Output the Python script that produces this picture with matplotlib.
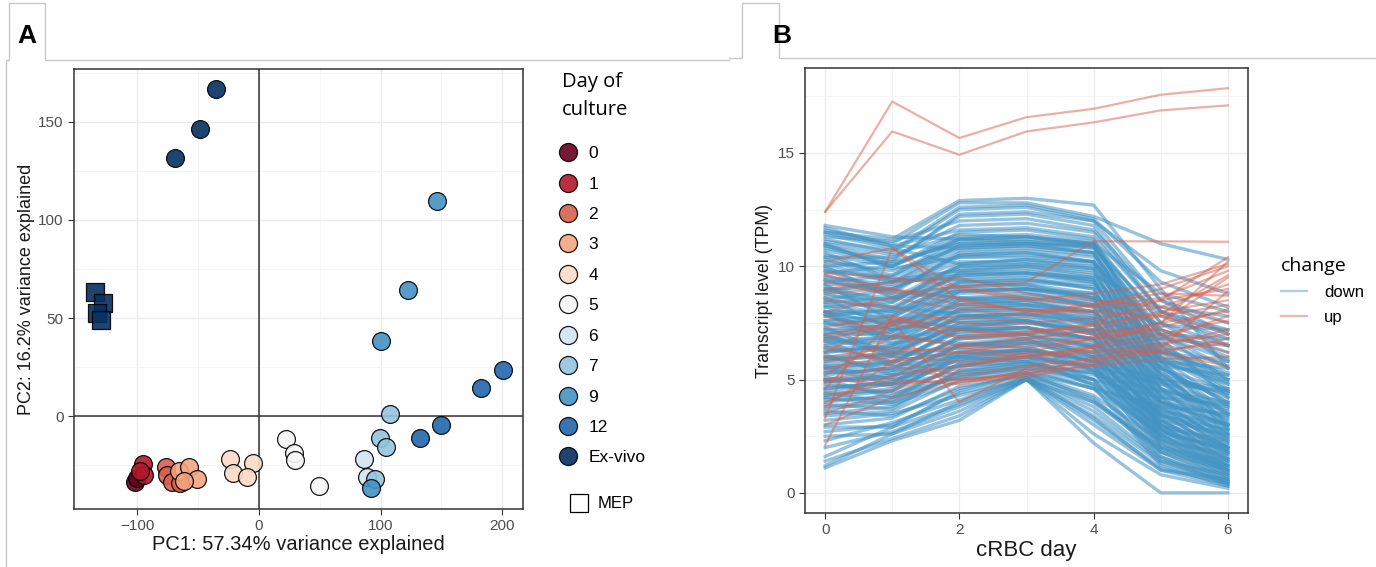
import matplotlib.pyplot as plt
from matplotlib.lines import Line2D
import numpy as np

plt.rcParams['font.family'] = ['Liberation Sans', 'DejaVu Sans']

# ---- panel A: PCA
day_labels = ['0', '1', '2', '3', '4', '5', '6', '7', '9', '12', 'Ex-vivo']
day_colors = ['#67001f', '#b2182b', '#d6604d', '#f4a582', '#fddbc7', '#f7f7f7',
              '#d1e5f0', '#92c5de', '#4393c3', '#2166ac', '#053061']
pc1 = {
    '0': [-101.5, -100.1],
    '1': [-95.2, -94.7, -97.4],
    '2': [-76.8, -75.4, -71.3, -64.5],
    '3': [-65.9, -57.7, -50.8, -61.8],
    '4': [-24.0, -4.8, -21.2, -9.7],
    '5': [22.6, 28.6, 30.0, 49.2],
    '6': [86.1, 88.9],
    '7': [108.0, 99.3, 104.8, 95.2],
    '9': [146.7, 122.6, 100.4, 92.2],
    '12': [200.6, 182.3, 149.8, 132.7],
    'Ex-vivo': [-35.7, -48.1, -68.6],
}
pc2 = {
    '0': [-33.5, -31.8],
    '1': [-24.5, -30.1, -27.9],
    '2': [-25.8, -30.1, -33.5, -34.0],
    '3': [-27.9, -26.2, -32.3, -33.0],
    '4': [-21.9, -23.8, -29.2, -30.9],
    '5': [-11.7, -18.7, -22.4, -35.7],
    '6': [-21.9, -30.9],
    '7': [0.8, -11.0, -15.6, -32.0],
    '9': [109.8, 64.2, 38.2, -36.9],
    '12': [23.4, 14.1, -4.6, -11.0],
    'Ex-vivo': [166.7, 146.6, 131.7],
}
mep_pc1 = [-134.4, -128.0, -133.5, -129.4]
mep_pc2 = [63.4, 57.8, 52.7, 48.9]

# ---- panel B: transcript trajectories (days 0..6)
days = [0, 1, 2, 3, 4, 5, 6]
down = [
    [11.5, 11.2, 12.9, 13.0, 12.7, 9.0, 5.5],
    [11.6, 11.0, 12.8, 12.8, 12.2, 11.0, 10.3],
    [11.2, 10.6, 12.5, 12.6, 12.0, 8.5, 7.0],
    [10.9, 10.3, 12.2, 12.3, 11.8, 8.0, 6.5],
    [11.0, 10.5, 11.4, 11.3, 11.0, 7.5, 5.8],
    [10.5, 10.0, 11.2, 11.1, 10.9, 7.0, 5.0],
    [10.8, 10.2, 11.0, 11.1, 10.8, 7.8, 6.8],
    [10.2, 9.8, 10.8, 10.9, 10.6, 6.5, 4.8],
    [9.8, 9.5, 10.9, 11.0, 10.9, 6.8, 4.2],
    [9.5, 9.2, 10.5, 10.6, 10.2, 6.2, 4.5],
    [9.0, 9.0, 10.2, 10.2, 10.0, 6.0, 3.8],
    [11.4, 10.8, 10.1, 10.3, 10.1, 7.2, 6.0],
    [8.7, 8.5, 9.8, 10.0, 9.7, 5.8, 3.5],
    [8.4, 8.6, 9.5, 9.6, 9.3, 5.5, 4.0],
    [8.0, 8.0, 9.2, 9.3, 9.1, 5.2, 3.2],
    [7.6, 7.8, 9.0, 9.0, 8.7, 5.0, 3.0],
    [7.2, 7.4, 8.6, 8.6, 8.3, 4.6, 2.8],
    [6.9, 7.1, 8.3, 8.4, 8.0, 4.3, 2.5],
    [6.5, 6.8, 8.0, 8.1, 7.7, 4.0, 2.2],
    [6.2, 6.5, 7.7, 7.8, 7.4, 3.8, 2.0],
    [5.9, 6.2, 7.4, 7.5, 7.1, 3.5, 1.8],
    [5.5, 5.8, 7.1, 7.2, 6.8, 3.2, 1.5],
    [5.2, 5.5, 6.8, 6.9, 6.5, 3.0, 1.3],
    [4.9, 5.2, 6.5, 6.6, 6.2, 2.8, 1.2],
    [4.6, 4.9, 6.2, 6.3, 5.9, 2.6, 1.0],
    [4.3, 4.6, 5.9, 6.0, 5.6, 2.4, 0.9],
    [4.0, 4.3, 5.6, 5.7, 5.3, 2.2, 0.8],
    [3.7, 4.0, 5.3, 5.5, 5.0, 2.0, 0.7],
    [3.4, 3.6, 5.0, 5.3, 4.6, 1.8, 0.6],
    [3.0, 3.3, 4.7, 5.2, 4.2, 1.6, 0.5],
    [2.7, 3.0, 4.4, 5.1, 3.8, 1.5, 0.4],
    [1.1, 2.3, 3.2, 5.0, 2.2, 0.0, 0.0],
    [1.2, 2.6, 3.6, 5.0, 3.0, 1.0, 0.3],
    [1.6, 2.9, 3.9, 5.0, 3.4, 1.3, 0.5],
    [2.3, 3.1, 4.1, 5.1, 3.6, 1.4, 0.8],
    [3.2, 3.5, 4.3, 5.0, 4.0, 1.8, 1.0],
    [5.0, 4.2, 5.1, 5.6, 4.8, 2.5, 1.5],
    [6.0, 5.4, 5.8, 6.1, 5.5, 3.0, 2.0],
    [7.0, 6.0, 6.4, 6.6, 6.0, 3.5, 2.5],
    [8.0, 6.8, 7.2, 7.3, 6.8, 4.0, 3.0],
    [9.2, 7.6, 8.0, 8.1, 7.6, 4.8, 3.5],
    [10.0, 8.6, 8.9, 9.0, 8.5, 5.5, 4.0],
    [10.6, 9.4, 9.8, 9.9, 9.5, 6.5, 5.0],
    [11.0, 9.9, 10.4, 10.5, 10.2, 7.0, 5.5],
    [11.7, 10.9, 11.6, 11.7, 11.3, 8.0, 7.0],
    [11.3, 11.1, 12.0, 12.1, 11.6, 8.5, 7.5],
    [10.4, 10.4, 11.8, 11.9, 11.5, 8.0, 7.2],
    [9.7, 10.0, 11.3, 11.4, 11.1, 7.5, 6.5],
    [9.3, 9.6, 11.0, 11.0, 10.8, 7.2, 6.2],
    [8.9, 9.3, 10.7, 10.8, 10.5, 6.9, 5.9],
    [8.5, 9.0, 10.4, 10.4, 10.2, 6.6, 5.6],
    [8.2, 8.4, 10.0, 10.1, 9.9, 6.3, 5.3],
    [7.8, 8.1, 9.6, 9.7, 9.5, 6.0, 5.0],
    [7.4, 7.7, 9.3, 9.4, 9.2, 5.8, 4.8],
    [7.0, 7.3, 8.9, 9.0, 8.8, 5.5, 4.5],
    [6.6, 6.9, 8.5, 8.7, 8.4, 5.2, 4.2],
    [6.2, 6.5, 8.1, 8.3, 8.0, 4.9, 3.9],
    [5.8, 6.1, 7.7, 7.9, 7.6, 4.6, 3.6],
    [5.4, 5.7, 7.3, 7.5, 7.2, 4.3, 3.3],
    [5.0, 5.3, 6.9, 7.1, 6.8, 4.0, 3.0],
    [4.6, 4.9, 6.5, 6.7, 6.4, 3.7, 2.7],
    [4.2, 4.5, 6.1, 6.3, 6.0, 3.4, 2.4],
    [3.8, 4.1, 5.7, 5.9, 5.6, 3.1, 2.1],
    [3.5, 3.8, 5.4, 5.6, 5.3, 2.8, 1.8],
    [6.8, 6.2, 6.0, 5.8, 5.2, 4.5, 4.0],
    [7.5, 6.9, 6.6, 6.4, 5.8, 5.0, 4.6],
    [8.2, 7.6, 7.3, 7.0, 6.5, 5.6, 5.2],
    [9.0, 8.2, 7.9, 7.6, 7.0, 6.2, 5.8],
    [9.8, 8.9, 8.6, 8.3, 7.7, 6.8, 6.5],
    [10.3, 9.4, 9.4, 9.1, 8.6, 7.4, 7.2],
    [4.4, 4.0, 5.2, 5.4, 4.6, 3.8, 3.5],
    [5.6, 5.0, 5.6, 5.8, 5.0, 4.2, 3.9],
    [6.4, 5.8, 6.2, 6.3, 5.6, 4.8, 4.5],
    [7.8, 7.2, 7.6, 7.7, 7.2, 5.8, 5.5],
    [10.7, 10.1, 11.1, 11.2, 11.0, 8.8, 8.0],
    [11.1, 10.7, 12.6, 12.7, 12.1, 9.3, 8.2],
    [10.0, 10.2, 12.3, 12.4, 12.0, 9.8, 8.8],
    [9.2, 9.1, 9.9, 10.0, 9.6, 8.2, 7.8],
    [8.6, 8.0, 8.6, 8.8, 8.3, 7.0, 6.8],
    [2.0, 2.7, 3.8, 5.0, 3.2, 1.1, 0.4],
    [9.6, 8.8, 10.6, 10.7, 10.4, 5.0, 2.6],
    [9.1, 8.4, 10.1, 10.3, 9.9, 4.6, 2.3],
    [8.8, 8.1, 9.7, 9.8, 9.4, 4.2, 2.0],
    [8.3, 7.9, 9.4, 9.5, 9.0, 3.9, 1.8],
    [7.9, 7.5, 9.1, 9.2, 8.6, 3.6, 1.6],
    [7.5, 7.2, 8.8, 8.9, 8.2, 3.3, 1.4],
    [7.1, 6.9, 8.4, 8.5, 7.8, 3.0, 1.2],
    [6.7, 6.6, 8.1, 8.2, 7.5, 2.8, 1.1],
    [6.3, 6.3, 7.8, 7.9, 7.1, 2.6, 1.0],
    [5.9, 6.0, 7.5, 7.6, 6.7, 2.4, 0.9],
    [5.6, 5.7, 7.2, 7.3, 6.4, 2.2, 0.8],
    [5.3, 5.4, 6.9, 7.0, 6.0, 2.0, 0.7],
    [5.0, 5.1, 6.6, 6.8, 5.7, 1.8, 0.6],
    [4.7, 4.8, 6.3, 6.5, 5.4, 1.6, 0.5],
    [4.4, 4.5, 6.0, 6.2, 5.0, 1.4, 0.4],
    [4.1, 4.2, 5.7, 6.0, 4.7, 1.2, 0.3],
    [10.9, 10.0, 11.5, 11.6, 11.2, 5.8, 3.0],
    [10.4, 9.6, 11.2, 11.3, 10.9, 5.4, 2.8],
    [9.9, 9.3, 10.9, 11.0, 10.6, 5.6, 3.4],
    [9.4, 8.9, 10.5, 10.6, 10.2, 5.2, 3.1],
    [8.9, 8.6, 10.0, 10.1, 9.8, 4.9, 2.9],
    [8.4, 8.2, 9.7, 9.7, 9.4, 4.5, 2.6],
    [8.0, 7.8, 9.3, 9.4, 9.0, 4.2, 2.4],
    [7.6, 7.5, 8.9, 9.0, 8.6, 4.0, 2.2],
    [7.2, 7.1, 8.5, 8.6, 8.2, 3.7, 2.0],
    [6.8, 6.8, 8.2, 8.3, 7.9, 3.4, 1.9],
    [6.4, 6.4, 7.8, 7.9, 7.5, 3.2, 1.7],
    [6.0, 6.1, 7.5, 7.6, 7.1, 3.0, 1.5],
    [5.7, 5.8, 7.2, 7.3, 6.8, 2.8, 1.4],
    [5.3, 5.5, 6.8, 7.0, 6.4, 2.5, 1.2],
    [4.9, 5.1, 6.5, 6.7, 6.1, 2.3, 1.1],
    [4.5, 4.8, 6.1, 6.3, 5.8, 2.1, 1.0],
    [8.6, 7.2, 7.8, 8.0, 7.4, 5.0, 4.4],
    [7.9, 6.6, 7.0, 7.3, 6.6, 4.4, 3.8],
    [7.3, 6.1, 6.5, 6.8, 6.2, 4.0, 3.4],
    [6.7, 5.6, 6.0, 6.3, 5.8, 3.6, 3.0],
    [6.1, 5.2, 5.6, 6.0, 5.4, 3.2, 2.6],
    [5.5, 4.8, 5.3, 5.7, 5.0, 2.9, 2.3],
    [4.8, 4.4, 5.1, 5.5, 4.6, 2.6, 2.0],
    [4.2, 3.9, 4.9, 5.3, 4.3, 2.3, 1.7],
    [3.6, 3.4, 4.6, 5.2, 4.0, 2.0, 1.4],
    [11.8, 11.3, 11.2, 11.3, 11.0, 6.4, 4.6],
    [11.5, 10.9, 10.8, 10.9, 10.6, 6.0, 4.4],
    [10.1, 9.3, 9.6, 9.7, 9.3, 6.2, 5.2],
    [9.4, 8.7, 9.1, 9.2, 8.8, 5.8, 4.9],
    [8.0, 7.4, 8.3, 8.5, 8.0, 5.3, 4.3],
    [6.9, 6.3, 7.3, 7.6, 7.0, 4.6, 3.7],
    [5.1, 4.7, 5.9, 6.2, 5.4, 3.4, 2.8],
    [3.9, 3.7, 5.4, 5.8, 4.8, 2.7, 1.9],
    [2.9, 2.9, 4.5, 5.3, 4.1, 1.9, 1.2],
    [2.5, 2.6, 4.0, 5.1, 3.3, 1.0, 0.6],
    [1.4, 2.4, 3.4, 5.0, 2.6, 0.8, 0.2],
]
up = [
    [12.4, 17.27, 15.66, 16.58, 16.95, 17.57, 17.86],
    [12.4, 15.95, 14.92, 15.95, 16.35, 16.88, 17.1],
    [9.7, 9.5, 9.1, 9.3, 11.1, 11.1, 11.08],
    [2.1, 7.8, 6.8, 7.0, 7.5, 8.5, 10.4],
    [3.3, 10.8, 8.5, 8.0, 8.3, 9.0, 10.0],
    [4.6, 7.6, 4.0, 5.5, 6.5, 7.5, 9.5],
    [9.6, 9.0, 8.6, 8.0, 8.0, 8.5, 9.0],
    [6.8, 7.4, 7.2, 7.0, 7.4, 8.0, 8.5],
    [5.0, 5.6, 5.0, 5.2, 6.0, 6.5, 7.2],
    [8.5, 8.2, 7.5, 7.3, 7.0, 7.5, 8.0],
    [4.0, 5.2, 5.6, 6.0, 6.5, 7.0, 7.6],
    [3.5, 4.5, 5.5, 6.2, 6.8, 7.2, 6.5],
    [7.3, 7.8, 7.2, 6.8, 7.2, 7.0, 6.2],
    [9.3, 8.8, 9.1, 8.6, 8.2, 8.6, 9.8],
    [6.0, 6.4, 6.2, 6.6, 6.9, 7.5, 10.2],
    [5.5, 6.0, 5.8, 6.0, 6.2, 6.6, 7.0],
    [4.3, 4.8, 5.0, 5.3, 5.6, 5.9, 6.0],
    [7.0, 7.5, 7.8, 7.5, 7.7, 8.2, 9.2],
    [8.0, 8.6, 8.1, 7.8, 8.3, 8.8, 8.7],
    [3.8, 5.8, 6.2, 6.0, 6.4, 6.8, 7.8],
    [5.8, 6.2, 6.4, 6.1, 6.3, 6.2, 5.6],
    [6.5, 5.8, 5.2, 5.6, 5.9, 6.3, 6.6],
    [9.0, 9.3, 9.5, 8.8, 8.5, 8.2, 7.5],
    [4.9, 5.0, 4.8, 5.4, 5.8, 6.4, 8.9],
    [7.8, 7.0, 6.5, 6.8, 7.2, 7.8, 8.3],
    [3.0, 4.2, 4.9, 5.1, 5.7, 6.2, 6.8],
    [6.2, 7.7, 6.9, 7.1, 7.4, 7.9, 9.6],
    [8.8, 9.0, 8.3, 8.1, 8.0, 7.8, 7.1],
    [10.2, 10.8, 9.0, 8.5, 8.8, 9.2, 10.1],
    [5.2, 6.9, 6.5, 6.4, 6.8, 7.3, 8.1],
]

tick_c = '#4d4d4d'
grid_c = '#ebebeb'

fig = plt.figure(figsize=(13.76, 5.67), dpi=100)

def ggstyle(ax):
    ax.set_facecolor('white')
    for s in ax.spines.values():
        s.set_color('#333333')
        s.set_linewidth(1.1)
    ax.grid(True, which='major', color=grid_c, lw=1.0, zorder=0)
    ax.grid(True, which='minor', color='#f4f4f4', lw=0.6, zorder=0)
    ax.set_axisbelow(True)
    ax.tick_params(which='major', length=4, color='#333333', labelcolor=tick_c, labelsize=11)
    ax.tick_params(which='minor', length=0)

# tabs / frames
def fline(xs, ys):
    fig.add_artist(Line2D([x / 1376 for x in xs], [1 - y / 567 for y in ys],
                          color='#c8c8c8', lw=1.0))

fline([6, 6, 9, 9, 45, 45, 729], [567, 60, 60, 3, 3, 60, 60])
fline([729, 742, 742, 779, 779, 1376], [58, 58, 3, 3, 58, 58])
fig.text(27 / 1376, 1 - 36 / 567, 'A', fontsize=19, fontweight='bold', ha='center', va='center')
fig.text(782 / 1376, 1 - 36 / 567, 'B', fontsize=19, fontweight='bold', ha='center', va='center')

# ---- panel A
axA = fig.add_axes([74 / 1376, 1 - 509 / 567, 449 / 1376, 440 / 567])
ggstyle(axA)
axA.set_xlim(-152, 217)
axA.set_ylim(-47.4, 177)
axA.set_xticks([-100, 0, 100, 200])
axA.set_xticks([-150, -50, 50, 150], minor=True)
axA.set_yticks([0, 50, 100, 150])
axA.set_yticks([-25, 25, 75, 125, 175], minor=True)
axA.axhline(0, color='#333333', lw=1.1, zorder=1)
axA.axvline(0, color='#333333', lw=1.1, zorder=1)
for lab, col in zip(day_labels, day_colors):
    axA.scatter(pc1[lab], pc2[lab], s=165, c=col, edgecolors='black', linewidths=0.9,
                alpha=0.9, zorder=3)
axA.scatter(mep_pc1, mep_pc2, s=185, marker='s', c=day_colors[-1], edgecolors='black',
            linewidths=0.9, alpha=0.9, zorder=3)
axA.set_xlabel('PC1: 57.34% variance explained', fontsize=14.5, color='#1a1a1a', labelpad=1)
axA.set_ylabel('PC2: 16.2% variance explained', fontsize=13, color='#1a1a1a', labelpad=2)

fig.text(562 / 1376, 1 - 82 / 567, 'Day of', family='Open Sans', fontsize=14.5, va='center')
fig.text(562 / 1376, 1 - 110 / 567, 'culture', family='Open Sans', fontsize=14.5, va='center')
h_days = [Line2D([], [], ls='none', marker='o', markersize=13, markerfacecolor=c,
                 markeredgecolor='black', markeredgewidth=0.9, alpha=0.9) for c in day_colors]
legA = fig.legend(h_days, day_labels, loc='upper left', bbox_to_anchor=(558 / 1376, 1 - 146 / 567),
                  frameon=False, fontsize=12.5, labelspacing=0.88, handletextpad=0.55,
                  borderaxespad=0, handlelength=1.2, borderpad=0)
h_mep = [Line2D([], [], ls='none', marker='s', markersize=13, markerfacecolor='white',
                markeredgecolor='black', markeredgewidth=0.9)]
fig.legend(h_mep, ['MEP'], loc='center left', bbox_to_anchor=(562 / 1376, 1 - 504 / 567),
           frameon=False, fontsize=12, handletextpad=0.55, borderaxespad=0, handlelength=1.2)

# ---- panel B
axB = fig.add_axes([805 / 1376, 1 - 513 / 567, 443 / 1376, 445 / 567])
ggstyle(axB)
for row in down:
    axB.plot(days, row, color='#4393c3', alpha=0.55, lw=2.4, zorder=2)
for row in up:
    axB.plot(days, row, color='#d6604d', alpha=0.5, lw=1.6, zorder=3)
axB.set_xlim(-0.3, 6.3)
axB.set_ylim(-0.89, 18.75)
axB.set_xticks([0, 2, 4, 6])
axB.set_xticks([1, 3, 5], minor=True)
axB.set_yticks([0, 5, 10, 15])
axB.set_yticks([2.5, 7.5, 12.5, 17.5], minor=True)
axB.set_xlabel('cRBC day', fontsize=16, color='#1a1a1a', labelpad=2)
axB.set_ylabel('Transcript level (TPM)', fontsize=12.8, color='#1a1a1a', labelpad=3)

h_chg = [Line2D([], [], color='#4393c3', alpha=0.45, lw=1.6),
         Line2D([], [], color='#d6604d', alpha=0.45, lw=1.6)]
legB = fig.legend(h_chg, ['down', 'up'], loc='upper left', bbox_to_anchor=(1274 / 1376, 1 - 250 / 567),
                  frameon=False, fontsize=12, handlelength=1.6, handletextpad=1.0,
                  labelspacing=0.6, borderaxespad=0, title='change',
                  title_fontproperties={'family': 'Open Sans', 'size': 14})
legB._legend_box.align = 'left'

plt.savefig('out.png', dpi=100)
